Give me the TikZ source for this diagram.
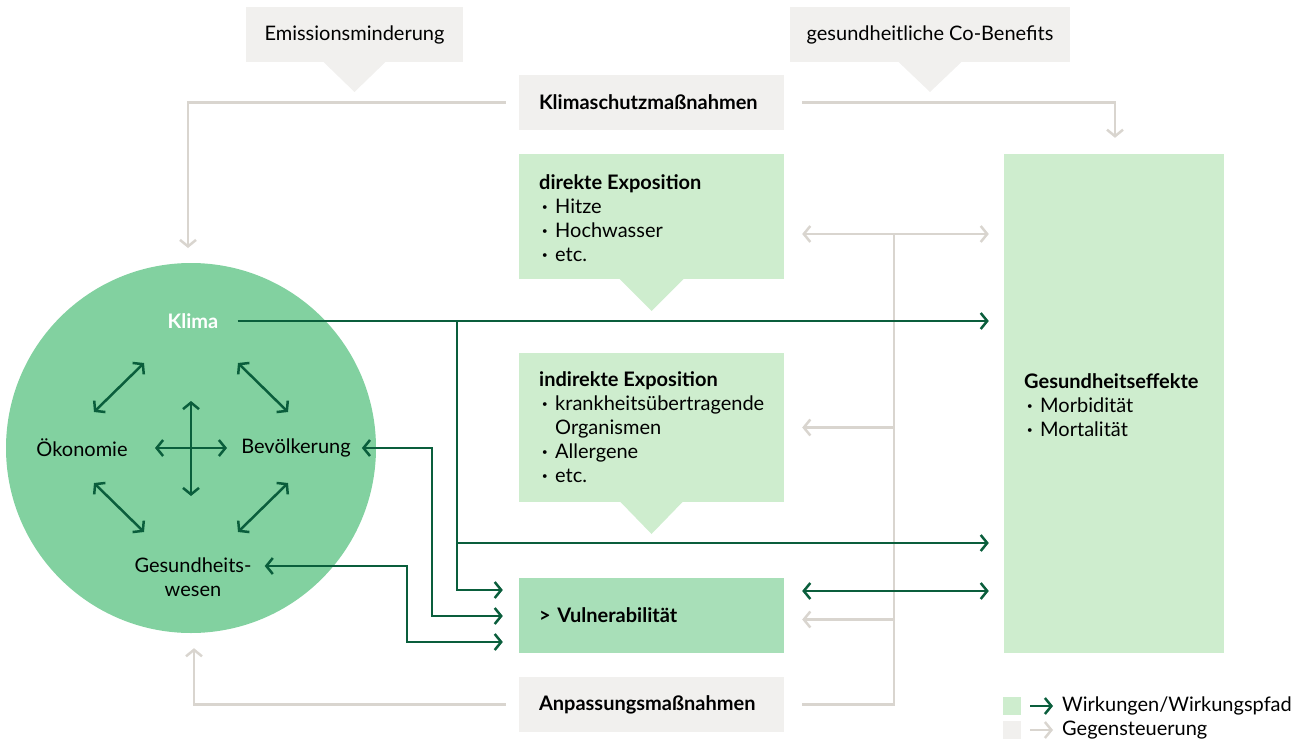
\documentclass[tikz,border=0pt]{standalone}
\usepackage{fontspec}
\setmainfont{Lato}
\usetikzlibrary{arrows.meta,calc}
\definecolor{dg}{HTML}{0A5E3C}
\definecolor{lgb}{HTML}{F1F0EE}
\definecolor{gln}{HTML}{D9D5CF}
\definecolor{lgr}{HTML}{CEEDCE}
\definecolor{vgr}{HTML}{A8DFB8}
\definecolor{cgr}{HTML}{82D1A0}
\newcommand\bul{\makebox[16pt][l]{\hspace{3pt}\textbf{·}}}
\newcommand\fnt{\fontsize{20}{24}\selectfont}
\tikzset{
  >={Straight Barb[length=6.5pt,width=16pt]},
  txt/.style={font=\fnt, inner sep=0pt, text=black},
  greybox/.style={fill=lgb, draw=none, inner sep=0pt, txt},
  greenbox/.style={fill=lgr, draw=none, inner sep=0pt},
  gline/.style={draw=gln, line width=2.5pt},
  wline/.style={draw=dg, line width=2.5pt},
}
\begin{document}
\begin{tikzpicture}[x=1pt,y=-1pt]
\useasboundingbox (0,0) rectangle (1303,744);

% top grey callouts
\node[greybox, minimum width=217, minimum height=55] (em) at (354.5,34.5) {Emissionsminderung};
\fill[lgb] (323,61.5) -- (354.5,92) -- (386,61.5) -- cycle;
\node[greybox, minimum width=280, minimum height=55] (cb) at (930,34.5) {gesundheitliche Co-Benefits};
\fill[lgb] (898,61.5) -- (930,92) -- (962,61.5) -- cycle;

% Klimaschutz
\node[greybox, minimum width=265, minimum height=55, text width=225, inner xsep=20pt, align=left, font=\fnt\bfseries] (ks) at (651.5,102.5) {Klimaschutzmaßnahmen};

% direkte Exposition
\node[greenbox, minimum width=265, minimum height=125] (de) at (651.5,216.5) {};
\fill[lgr] (619,278.5) -- (651.5,311) -- (684,278.5) -- cycle;
\node[txt, anchor=north west, align=left] (detxt) at (539,174) {\textbf{direkte Exposition}\\\bul Hitze\\\bul Hochwasser\\\bul etc.};

% indirekte Exposition
\node[greenbox, minimum width=265, minimum height=149] (ie) at (651.5,427.5) {};
\fill[lgr] (620,501.5) -- (651.5,534) -- (683,501.5) -- cycle;
\node[txt, anchor=north west, align=left] (ietxt) at (539,371) {\textbf{indirekte Exposition}\\\bul krankheitsübertragende\\\hspace*{16pt}Organismen\\\bul Allergene\\\bul etc.};

% Vulnerabilitaet
\node[fill=vgr, minimum width=265, minimum height=75, text width=225, inner sep=0pt, inner xsep=20pt, align=left, txt, font=\fnt\bfseries] (vu) at (651.5,615.5) {> Vulnerabilität};

% Anpassung
\node[greybox, minimum width=265, minimum height=55, text width=225, inner xsep=20pt, align=left, font=\fnt\bfseries] (an) at (651.5,704.5) {Anpassungsmaßnahmen};

% Gesundheitseffekte
\node[greenbox, minimum width=220, minimum height=499] (ge) at (1114,403.5) {};
\node[txt, anchor=north west, align=left] (getxt) at (1024,373) {\textbf{Gesundheitseffekte}\\\bul Morbidität\\\bul Mortalität};

% circle
\node[circle, fill=cgr, minimum size=370, inner sep=0pt] (circ) at (191,448) {};
\node[txt, text=white, font=\fnt\bfseries] (klima) at (193,321) {Klima};
\node[txt] (oek) at (82,448) {Ökonomie};
\node[txt] (bev) at (296,448) {Bevölkerung};
\node[txt, align=center] (gw) at (193,577) {Gesundheits-\\wesen};

% inner arrows
\draw[wline,<->] (94,412) -- (144,363);
\draw[wline,<->] (238,363) -- (288,412);
\draw[wline,<->] (94,483) -- (144,532);
\draw[wline,<->] (288,483) -- (238,532);
\draw[wline,<->] (191,401) -- (191,496);
\draw[wline,<->] (155,448) -- (227,448);

% grey feedback lines
\coordinate (emtip) at (188,248);
\draw[gline,->, shorten <=13pt] (ks.west) -| (emtip);
\draw[gline,->, shorten <=18pt] (ks.east) -| ($(ge.north)+(1,-16)$);
\coordinate (gtop) at (894,234);
\draw[gline, shorten <=18pt] (an.east) -| (gtop);
\draw[gline,->, shorten >=18pt] (gtop) -- (gtop -| de.east);
\draw[gline,->, shorten >=15pt] (gtop) -- (gtop -| ge.west);
\draw[gline,->, shorten >=18pt] (ie.east -| gtop) -- (ie.east);
\draw[gline,->, shorten >=18pt] ($(vu.east -| gtop)+(0,4)$) -- ($(vu.east)+(0,4)$);
\draw[gline,->, shorten <=13pt] (an.west) -| ($(circ.south)+(3,15)$);

% green paths
\coordinate (j1) at (457,321);
\coordinate (j2) at (457,543);
\coordinate (bx) at (432,448);
\coordinate (gx) at (407,566);
\coordinate (v1) at ($(vu.west)+(-16,-25.5)$);
\coordinate (v2) at ($(vu.west)+(-16,0.5)$);
\coordinate (v3) at ($(vu.west)+(-16,26.5)$);
\draw[wline,->, shorten <=19pt, shorten >=15pt] (klima.east) -- (klima.east -| ge.west);
\draw[wline,->] (j1) |- (v1);
\draw[wline,->, shorten >=15pt] (j2) -- (j2 -| ge.west);
\draw[wline,<->, shorten >=11pt] (v2) -| (bx) -- (bx -| bev.east);
\draw[wline,<->, shorten >=13pt] (v3) -| (gx) -- (gx -| gw.east);
\draw[wline,<->, shorten <=18pt, shorten >=15pt] ($(vu.east)+(0,-24.5)$) -- ($(vu.east -| ge.west)+(0,-24.5)$);

% legend
\node[fill=lgr, minimum size=18, inner sep=0pt] (lg1) at (1012,706) {};
\node[fill=lgb, minimum size=18, inner sep=0pt] (lg2) at (1012,730) {};
\node[txt, anchor=west] (lt1) at (1062,706) {Wirkungen/Wirkungspfad};
\node[txt, anchor=west] (lt2) at (1062,730) {Gegensteuerung};
\draw[wline,->, shorten <=9pt, shorten >=9pt] (lg1.east) -- (lt1.west);
\draw[gline,->, shorten <=9pt, shorten >=9pt] (lg2.east) -- (lt2.west);
\end{tikzpicture}
\end{document}
